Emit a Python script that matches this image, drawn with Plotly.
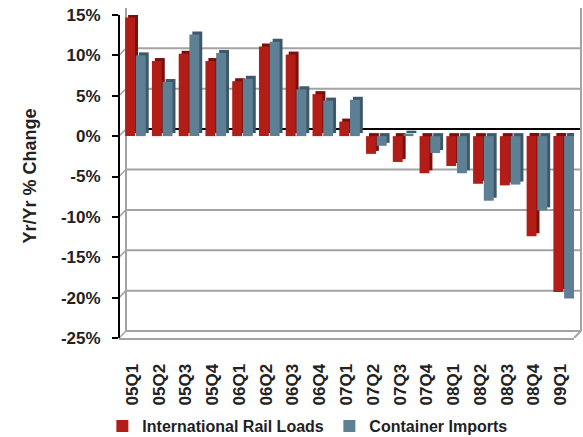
import plotly.graph_objects as go

# Quarterly year-over-year change (%)
quarters = ["05Q1", "05Q2", "05Q3", "05Q4", "06Q1", "06Q2", "06Q3", "06Q4",
            "07Q1", "07Q2", "07Q3", "07Q4", "08Q1", "08Q2", "08Q3", "08Q4", "09Q1"]
rail_loads = [14.7, 9.3, 10.2, 9.3, 6.8, 11.1, 10.1, 5.2, 1.8,
              -2.2, -3.2, -4.6, -3.7, -5.9, -6.1, -12.4, -19.3]
container_imports = [10.0, 6.7, 12.6, 10.3, 7.1, 11.7, 5.8, 4.4, 4.5,
                     -1.2, 0.3, -2.1, -4.6, -8.0, -6.0, -9.2, -20.1]
y_ticks = [-25, -20, -15, -10, -5, 0, 5, 10, 15]
y_tick_text = ["-25%", "-20%", "-15%", "-10%", "-5%", "0%", "5%", "10%", "15%"]

W, H = 583, 437
L, R, T, B = 119, 2, 8, 99
PW, PH = W - L - R, H - T - B
DEPTH = 7                      # px offset of the back wall
FRONT_W = PW - DEPTH
FRONT_H = PH - DEPTH
Y_MIN, Y_MAX = -25, 15
px_per_unit = FRONT_H / (Y_MAX - Y_MIN)
side_lift = 3 / px_per_unit    # visible top/side face of each bar

RED, RED_SIDE = "#B21D18", "#7A0F0C"
BLUE, BLUE_SIDE = "#5E8094", "#3C5869"
FONT = "Liberation Sans, Arial, sans-serif"
TEXT = "#222222"
GRID = "#A3A3A3"

fig = go.Figure()

def add_bar(name, values, color, side_color, offset, width=0.37):
    # darker face shifted right/up gives the extruded look
    fig.add_trace(go.Bar(x=quarters, y=values, base=side_lift, offset=offset + 0.11,
                         width=width, marker=dict(color=side_color, line_width=0),
                         showlegend=False, hoverinfo="skip"))
    fig.add_trace(go.Bar(x=quarters, y=values, name=name, offset=offset, width=width,
                         marker=dict(color=color, line_width=0)))

add_bar("International Rail Loads", rail_loads, RED, RED_SIDE, -0.27)
add_bar("Container Imports", container_imports, BLUE, BLUE_SIDE, 0.13)

# back wall: gridlines, frame and the short connectors to the front axis
x_back = DEPTH / PW
shapes = []
for v in y_ticks:
    shapes.append(dict(type="line", layer="below", xref="paper", x0=x_back, x1=1,
                       yref="y", ysizemode="pixel", yanchor=v, y0=DEPTH, y1=DEPTH,
                       line=dict(color="#000000" if v == 0 else GRID, width=2)))
    shapes.append(dict(type="line", layer="below", xref="paper", x0=0, x1=x_back,
                       yref="y", ysizemode="pixel", yanchor=v, y0=0, y1=DEPTH,
                       line=dict(color=GRID, width=1.5)))
for xb in (x_back, 1):
    shapes.append(dict(type="line", layer="below", xref="paper", x0=xb, x1=xb,
                       yref="paper", y0=DEPTH / PH, y1=1,
                       line=dict(color=GRID, width=2)))
shapes.append(dict(type="line", layer="below", xref="paper", x0=FRONT_W / PW, x1=1,
                   yref="y", ysizemode="pixel", yanchor=Y_MIN, y0=0, y1=DEPTH,
                   line=dict(color=GRID, width=2)))
# front vertical axis line
shapes.append(dict(type="line", layer="above", xref="paper", x0=0, x1=0,
                   yref="paper", y0=0, y1=FRONT_H / PH,
                   line=dict(color="#000000", width=2)))

zero_pos = (0 - Y_MIN) / (Y_MAX - Y_MIN) * (FRONT_H / PH)

fig.update_layout(
    width=W, height=H,
    margin=dict(l=L, r=R, t=T, b=B, autoexpand=False),
    paper_bgcolor="white", plot_bgcolor="white",
    barmode="overlay",
    font=dict(family=FONT, color=TEXT),
    shapes=shapes,
    xaxis=dict(domain=[0, FRONT_W / PW], type="category", range=[-0.5, 16.5],
               showline=True, linecolor=GRID, linewidth=2, ticks="", automargin=False,
               showgrid=False, tickangle=-90, ticklabelstandoff=17,
               tickfont=dict(family=FONT, size=17, weight="bold", color=TEXT)),
    xaxis3=dict(overlaying="x", anchor="free", position=zero_pos, domain=[0, FRONT_W / PW],
                range=[-0.5, 16.5], tick0=0.5, dtick=1, showline=True,
                linecolor="#000000", linewidth=2.5, ticks="outside", ticklen=5,
                tickwidth=2, tickcolor="#000000", showticklabels=False, showgrid=False,
                zeroline=False),
    yaxis=dict(domain=[0, FRONT_H / PH], range=[Y_MIN, Y_MAX], tickvals=y_ticks,
               ticktext=y_tick_text, showgrid=False, zeroline=False, showline=False,
               ticks="outside", ticklen=6, automargin=False,
               tickwidth=2, tickcolor="#000000", ticklabelstandoff=8,
               tickfont=dict(family=FONT, size=17, weight="bold", color=TEXT)),
    legend=dict(orientation="h", x=-0.036, xanchor="left", y=-(426 - (T + PH)) / PH,
                yanchor="middle", itemwidth=30, entrywidth=182, entrywidthmode="pixels",
                font=dict(family=FONT, size=16, weight="bold", color=TEXT),
                traceorder="normal"),
    annotations=[dict(text="Yr/Yr % Change", textangle=-90, showarrow=False,
                      xref="paper", yref="paper", x=(29 - L) / PW, y=0.5 * FRONT_H / PH,
                      xanchor="center", yanchor="middle",
                      font=dict(family=FONT, size=18, weight="bold", color=TEXT))],
)

fig.write_html("out.html")
